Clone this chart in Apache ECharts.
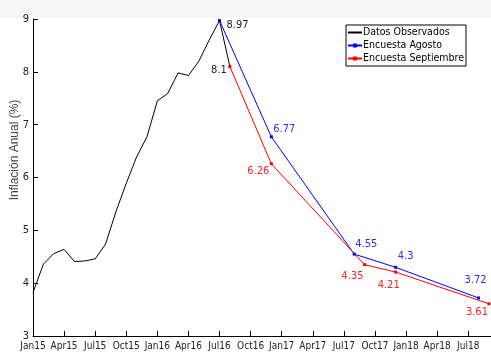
<!DOCTYPE html>
<html>
<head>
<meta charset="utf-8">
<script src="https://cdn.jsdelivr.net/npm/echarts@6/dist/echarts.min.js"></script>
<style>
html,body{margin:0;padding:0;background:#fff;}
#main{width:491px;height:354px;}
</style>
</head>
<body>
<div id="main"></div>
<script>
// ---- data ----
var xTickLabels = ['Jan15','Apr15','Jul15','Oct15','Jan16','Apr16','Jul16','Oct16','Jan17','Apr17','Jul17','Oct17','Jan18','Apr18','Jul18'];
var observedDates = ['2015-01','2015-02','2015-03','2015-04','2015-05','2015-06','2015-07','2015-08','2015-09','2015-10','2015-11','2015-12',
                     '2016-01','2016-02','2016-03','2016-04','2016-05','2016-06','2016-07','2016-08'];
var observedValues = [3.82,4.36,4.56,4.64,4.41,4.42,4.46,4.74,5.35,5.89,6.39,6.77,7.45,7.59,7.98,7.93,8.20,8.60,8.97,8.10];
var agostoDates = ['2016-07','2016-12','2017-08','2017-12','2018-08'];
var agostoValues = [8.97,6.77,4.55,4.30,3.72];
var septDates = ['2016-08','2016-12','2017-09','2017-12','2018-09'];
var septValues = [8.10,6.26,4.35,4.21,3.61];
var seriesNames = ['Datos Observados','Encuesta Agosto','Encuesta Septiembre'];

// ---- label placement (style only) ----
var agostoLabelOffsets = [[18,5],[13,-8],[12,-10],[10,-11],[-3,-18]];
var agostoLabelColors = ['#222','#2b2bff','#2b2bff','#2b2bff','#2b2bff'];
var septLabelOffsets = [[-11,4],[-13,7],[-12,11],[-7,13],[-12,8]];
var septLabelColors = ['#222','#ff2020','#ff2020','#ff2020','#ff2020'];

function monthIndex(s){
  var p = s.split('-');
  return (parseInt(p[0],10)-2015)*12 + (parseInt(p[1],10)-1);
}
function pairs(dates, vals){
  return dates.map(function(d,i){ return [monthIndex(d), vals[i]]; });
}
function labeled(dates, vals, offs, cols){
  return dates.map(function(d,i){
    return {
      value:[monthIndex(d), vals[i]],
      label:{show:true, position:'inside', offset:offs[i], color:cols[i],
             formatter:String(vals[i])}
    };
  });
}

var FONT = '"DejaVu Sans Condensed","Liberation Sans",sans-serif';

var chart = echarts.init(document.getElementById('main'), null, {renderer:'canvas'});
chart.setOption({
  animation:false,
  backgroundColor:'#ffffff',
  textStyle:{fontFamily:FONT},
  graphic:[
    {type:'rect', shape:{x:0,y:0,width:491,height:18}, style:{fill:'#f6f6f6'}, z:-10},
    {type:'text', x:15, y:150, rotation:Math.PI/2,
     style:{text:'Inflación Anual (%)', font:'12px "Liberation Sans",sans-serif', fill:'#444',
            textAlign:'center', textVerticalAlign:'middle'}}
  ],
  grid:{left:33, right:0, top:19, bottom:18, containLabel:false},
  legend:{
    orient:'vertical', right:25, top:25,
    data:[{name:seriesNames[0], itemStyle:{opacity:0}}, seriesNames[1], seriesNames[2]],
    itemWidth:14, itemHeight:5, itemGap:0,
    padding:[1,2,1,1],
    backgroundColor:'#fff', borderColor:'#000', borderWidth:1, borderRadius:0,
    textStyle:{fontFamily:FONT, fontSize:10.5, color:'#000', padding:[0,0,0,-4], lineHeight:13}
  },
  xAxis:{
    type:'value', min:0, max:44.2, interval:3,
    axisLine:{show:true, onZero:false, lineStyle:{color:'#000', width:1}},
    axisTick:{show:true, inside:true, length:5, lineStyle:{color:'#000'}},
    splitLine:{show:false},
    axisLabel:{fontFamily:FONT, fontSize:10, color:'#222', margin:5, showMaxLabel:false,
      formatter:function(v){ var k = Math.round(v/3); return (Math.abs(v-k*3)<1e-6 && xTickLabels[k]) ? xTickLabels[k] : ''; }}
  },
  yAxis:{
    type:'value', min:3, max:9, interval:1,
    axisLine:{show:true, lineStyle:{color:'#000', width:1}},
    axisTick:{show:true, inside:true, length:5, lineStyle:{color:'#000'}},
    splitLine:{show:false},
    axisLabel:{fontFamily:FONT, fontSize:11, color:'#222', margin:4}
  },
  series:[
    {name:seriesNames[0], type:'line', data:pairs(observedDates, observedValues),
     showSymbol:false, symbol:'none', lineStyle:{color:'#000', width:1}, itemStyle:{color:'#000'}, z:3},
    {name:seriesNames[1], type:'line', data:labeled(agostoDates, agostoValues, agostoLabelOffsets, agostoLabelColors),
     symbol:'rect', symbolSize:3, showAllSymbol:true, lineStyle:{color:'#0000ff', width:1}, itemStyle:{color:'#0000ff'},
     label:{fontFamily:FONT, fontSize:11}, z:4},
    {name:seriesNames[2], type:'line', data:labeled(septDates, septValues, septLabelOffsets, septLabelColors),
     symbol:'rect', symbolSize:3, showAllSymbol:true, lineStyle:{color:'#ff0000', width:1}, itemStyle:{color:'#ff0000'},
     label:{fontFamily:FONT, fontSize:11}, z:4}
  ]
});
</script>
</body>
</html>
